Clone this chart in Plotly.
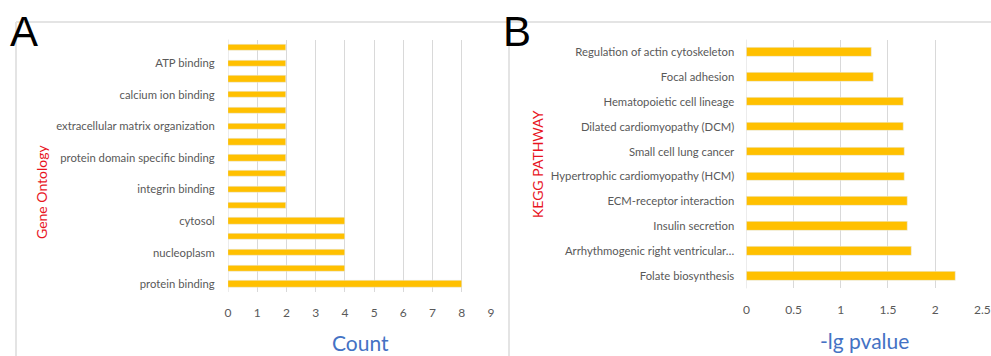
import plotly.graph_objects as go

# Panel A: Gene Ontology term counts (top-to-bottom order)
go_terms = ["", "ATP binding", "", "calcium ion binding", "",
            "extracellular matrix organization", "", "protein domain specific binding",
            "", "integrin binding", "", "cytosol", "", "nucleoplasm", "", "protein binding"]
go_counts = [2, 2, 2, 2, 2, 2, 2, 2, 2, 2, 2, 4, 4, 4, 4, 8]
count_ticks = [0, 1, 2, 3, 4, 5, 6, 7, 8, 9]

# Panel B: KEGG pathway enrichment (-lg p value), top-to-bottom order
kegg_terms = ["Regulation of actin cytoskeleton", "Focal adhesion",
              "Hematopoietic cell lineage", "Dilated cardiomyopathy (DCM)",
              "Small cell lung cancer", "Hypertrophic cardiomyopathy (HCM)",
              "ECM-receptor interaction", "Insulin secretion",
              "Arrhythmogenic right ventricular…", "Folate biosynthesis"]
kegg_lgp = [1.32, 1.35, 1.66, 1.66, 1.68, 1.68, 1.71, 1.71, 1.75, 2.22]
lgp_ticks = [0, 0.5, 1, 1.5, 2, 2.5]

W, H = 991, 356
BAR = "#FFC000"
GRID = "#D9D9D9"
TXT = "#595959"
FONT = "Lato"


def px(x):
    return x / W


def py(y):
    return 1 - y / H


fig = go.Figure()
go_pos = list(range(len(go_terms)))
fig.add_trace(go.Bar(x=go_counts, y=go_pos, orientation="h", marker_color=BAR,
                     width=0.4, xaxis="x", yaxis="y", showlegend=False))
fig.add_trace(go.Bar(x=kegg_lgp, y=kegg_terms, orientation="h", marker_color=BAR,
                     width=0.34, xaxis="x2", yaxis="y2", showlegend=False))

tick_font = dict(family=FONT, size=12, color=TXT)
cat_font = dict(family=FONT, size=11.3, color=TXT)

fig.update_layout(
    width=W, height=H, margin=dict(l=0, r=0, t=0, b=0, autoexpand=False),
    paper_bgcolor="white", plot_bgcolor="white",
    bargap=0,
    xaxis=dict(domain=[px(228), px(491)], range=[0, 9], tickvals=count_ticks,
               showgrid=True, gridcolor=GRID, gridwidth=1, zeroline=False,
               showline=False, ticks="outside", ticklen=10, tickcolor="rgba(0,0,0,0)",
               tickfont=tick_font, anchor="y", automargin=False),
    yaxis=dict(domain=[py(292), py(39.5)], range=[len(go_terms) - 0.5, -0.5],
               tickvals=go_pos, ticktext=go_terms, showgrid=False, zeroline=False,
               ticks="outside", ticklen=10, tickcolor="rgba(0,0,0,0)",
               tickfont=cat_font, anchor="x", automargin=False),
    xaxis2=dict(domain=[px(746.5), px(982.3)], range=[0, 2.5], tickvals=lgp_ticks,
                showgrid=True, gridcolor=GRID, gridwidth=1, zeroline=False,
                showline=False, ticks="outside", ticklen=10, tickcolor="rgba(0,0,0,0)",
                tickfont=tick_font, anchor="y2", automargin=False),
    yaxis2=dict(domain=[py(288.4), py(39.6)], categoryorder="array",
                categoryarray=kegg_terms, autorange="reversed", showgrid=False,
                zeroline=False, ticks="outside", ticklen=9,
                tickcolor="rgba(0,0,0,0)", tickfont=cat_font, anchor="x2",
                automargin=False),
)

# Grid lines should show through at x=0 as well
fig.add_shape(type="line", xref="x", yref="paper", x0=0, x1=0, y0=py(292), y1=py(39.5),
              line=dict(color=GRID, width=1), layer="below")
fig.add_shape(type="line", xref="x2", yref="paper", x0=0, x1=0, y0=py(288.4), y1=py(39.6),
              line=dict(color=GRID, width=1), layer="below")

# Panel frames
frame = dict(color="#E4E4E4", width=2)
fig.add_shape(type="line", xref="paper", yref="paper", x0=px(16), x1=1, y0=py(22), y1=py(22), line=frame)
fig.add_shape(type="line", xref="paper", yref="paper", x0=px(16), x1=px(16), y0=py(22), y1=0, line=frame)
fig.add_shape(type="line", xref="paper", yref="paper", x0=px(509), x1=px(509), y0=py(22), y1=0, line=frame)

ann = []
# Panel letters
for letter, cx in (("A", 23.5), ("B", 517)):
    ann.append(dict(text=letter, x=px(cx), y=py(31), xref="paper", yref="paper",
                    showarrow=False, xanchor="center", yanchor="middle",
                    font=dict(family="Liberation Sans", size=42, color="black")))
# Axis titles
ann.append(dict(text="Count", x=px(360), y=py(342), xref="paper", yref="paper",
                showarrow=False, xanchor="center", yanchor="middle",
                font=dict(family=FONT, size=21, color="#4472C4")))
ann.append(dict(text="-lg pvalue", x=px(864), y=py(340), xref="paper", yref="paper",
                showarrow=False, xanchor="center", yanchor="middle",
                font=dict(family=FONT, size=21, color="#4472C4")))
ann.append(dict(text="Gene Ontology", x=px(41), y=py(192), xref="paper", yref="paper",
                showarrow=False, xanchor="center", yanchor="middle", textangle=-90,
                font=dict(family=FONT, size=14, color="#E8141E")))
ann.append(dict(text="KEGG PATHWAY", x=px(537), y=py(164), xref="paper", yref="paper",
                showarrow=False, xanchor="center", yanchor="middle", textangle=-90,
                font=dict(family=FONT, size=14, color="#E8141E")))
fig.update_layout(annotations=ann)

fig.write_html("out.html")
